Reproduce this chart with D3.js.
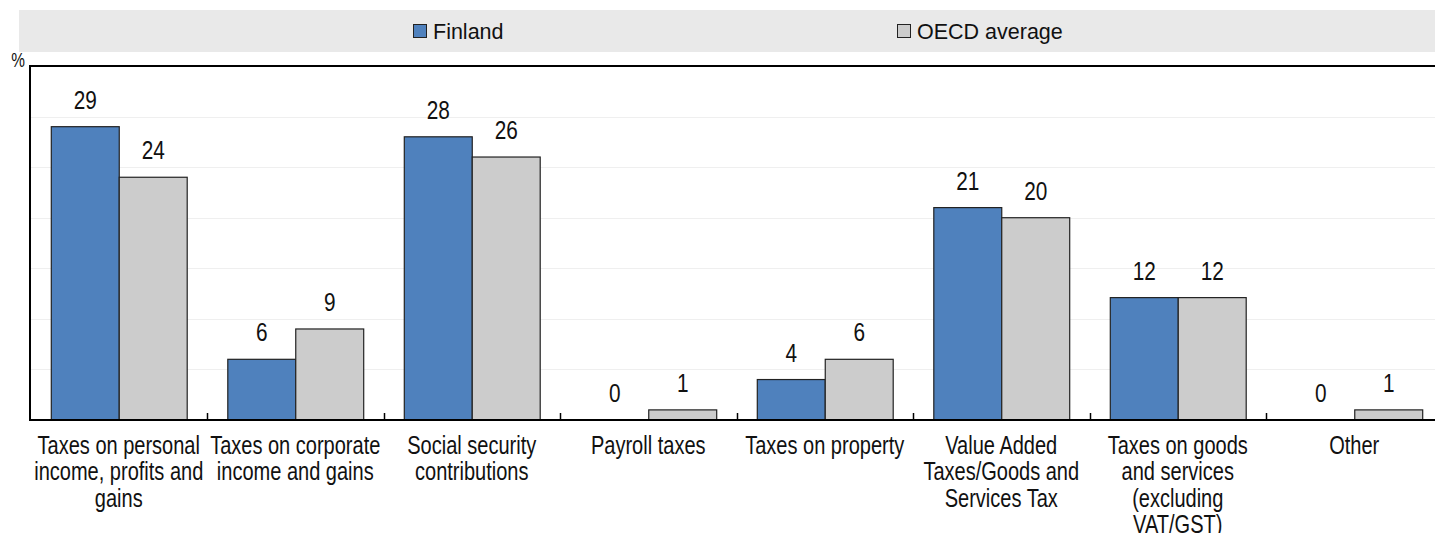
<!DOCTYPE html>
<html>
<head>
<meta charset="utf-8">
<script src="https://cdn.jsdelivr.net/npm/d3@7"></script>
<style>
  html, body { margin: 0; padding: 0; background: #fff; }
  svg { display: block; font-family: "Liberation Sans", Arial, sans-serif; }
</style>
</head>
<body>
<svg id="chart" width="1435" height="533"></svg>
<script>
const categories = [
  "Taxes on personal income, profits and gains",
  "Taxes on corporate income and gains",
  "Social security contributions",
  "Payroll taxes",
  "Taxes on property",
  "Value Added Taxes/Goods and Services Tax",
  "Taxes on goods and services (excluding VAT/GST)",
  "Other"
];
const categoryLines = [
  ["Taxes on personal", "income, profits and", "gains"],
  ["Taxes on corporate", "income and gains"],
  ["Social security", "contributions"],
  ["Payroll taxes"],
  ["Taxes on property"],
  ["Value Added", "Taxes/Goods and", "Services Tax"],
  ["Taxes on goods", "and services", "(excluding", "VAT/GST)"],
  ["Other"]
];
const seriesNames = ["Finland", "OECD average"];
const finland = [29.0, 6.0, 28.0, 0.0, 4.0, 21.0, 12.1, 0.0];
const oecd = [24.0, 9.0, 26.0, 1.0, 6.0, 20.0, 12.1, 1.0];
const seriesColors = ["#4F81BD", "#CCCCCC"];
const yTicks = [0, 5, 10, 15, 20, 25, 30, 35];

const svg = d3.select("#chart");
const W = 1435;
const plotL = 31, plotR = 1435, plotT = 66, plotB = 420;

const x0 = d3.scaleBand().domain(categories).range([30.5, 1442.5])
  .paddingInner(0.23).paddingOuter(0.115);
const x1 = d3.scaleBand().domain(seriesNames).range([0, x0.bandwidth()]);
const y = d3.scaleLinear().domain([0, 35]).range([plotB, plotT]);

// Legend background
svg.append("rect").attr("x", 19).attr("y", 10).attr("width", W - 19).attr("height", 42)
  .attr("fill", "#E9E9E9");
const legendX = [413, 897];
seriesNames.forEach((s, i) => {
  const g = svg.append("g").attr("transform", `translate(${legendX[i]},24)`);
  g.append("rect").attr("x", 0.5).attr("y", 0.5).attr("width", 13).attr("height", 13)
    .attr("fill", seriesColors[i]).attr("stroke", "#222").attr("stroke-width", 1);
  g.append("text").attr("x", 20).attr("y", 15).attr("font-size", 21.5).attr("fill", "#111").text(s);
});

// Gridlines
svg.append("g").selectAll("line").data(yTicks.filter(t => t > 0 && t < 35)).join("line")
  .attr("x1", plotL).attr("x2", plotR)
  .attr("y1", d => Math.round(y(d)) + 0.5).attr("y2", d => Math.round(y(d)) + 0.5)
  .attr("stroke", "#EFEFEF").attr("stroke-width", 1);

// Bars
const data = categories.map((c, i) => ({ c, vals: [finland[i], oecd[i]] }));
const groups = svg.append("g").selectAll("g").data(data).join("g")
  .attr("transform", d => `translate(${x0(d.c)},0)`);
groups.selectAll("rect").data(d => d.vals.map((v, j) => ({ v, s: seriesNames[j], j })))
  .join("rect")
  .filter(d => d.v > 0)
  .attr("x", d => x1(d.s) + 0.5)
  .attr("y", d => y(d.v))
  .attr("width", x1.bandwidth())
  .attr("height", d => y(0) - y(d.v))
  .attr("fill", d => seriesColors[d.j])
  .attr("stroke", "#222").attr("stroke-width", 1.2);

// Value labels
groups.selectAll("text.val").data(d => d.vals.map((v, j) => ({ v, s: seriesNames[j] })))
  .join("text").attr("class", "val")
  .attr("transform", d => `translate(${x1(d.s) + x1.bandwidth() / 2 + 0.5},${y(d.v) - 18}) scale(0.8,1)`)
  .attr("text-anchor", "middle").attr("font-size", 26).attr("fill", "#111")
  .text(d => Math.round(d.v));

// Axes frame
svg.append("line").attr("x1", plotL - 1).attr("x2", plotR).attr("y1", plotT).attr("y2", plotT)
  .attr("stroke", "#000").attr("stroke-width", 2);
svg.append("line").attr("x1", plotL - 1).attr("x2", plotL - 1).attr("y1", plotT - 1).attr("y2", plotB + 1)
  .attr("stroke", "#000").attr("stroke-width", 2);
svg.append("line").attr("x1", plotL - 2).attr("x2", plotR).attr("y1", plotB).attr("y2", plotB)
  .attr("stroke", "#000").attr("stroke-width", 2);

// Category boundary ticks
const step = x0.step();
svg.append("g").selectAll("line").data(categories.slice(1)).join("line")
  .attr("x1", d => Math.round(x0(d) - x0.paddingInner() * step / 2) + 0.5)
  .attr("x2", d => Math.round(x0(d) - x0.paddingInner() * step / 2) + 0.5)
  .attr("y1", plotB - 7).attr("y2", plotB)
  .attr("stroke", "#000").attr("stroke-width", 1.5);

// Category labels
categories.forEach((c, i) => {
  const cx = x0(c) + x0.bandwidth() / 2;
  categoryLines[i].forEach((ln, k) => {
    svg.append("text")
      .attr("transform", `translate(${cx},${454 + k * 26.3}) scale(0.77,1)`)
      .attr("text-anchor", "middle").attr("font-size", 26).attr("fill", "#111")
      .text(ln);
  });
});

// Unit label
svg.append("text").attr("transform", "translate(18,66.5) scale(0.77,1)")
  .attr("text-anchor", "middle").attr("font-size", 20).attr("fill", "#111").text("%");
</script>
</body>
</html>
